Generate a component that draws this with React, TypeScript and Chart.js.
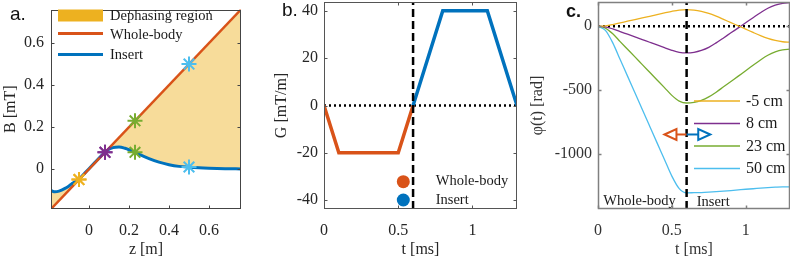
import React, { useEffect, useRef } from 'react';
import { Chart, registerables } from 'chart.js';
Chart.register(...registerables);

// ---------------- Panel a : field profiles ----------------
const aMin = -0.19;
const aMax = 0.76;
const aTicks = [0, 0.2, 0.4, 0.6];
const aTickLabels = ['0', '0.2', '0.4', '0.6'];
const wholeBodyZ = [-0.19, 0.76];
const wholeBodyB = [-0.19, 0.76];
const insertZ = [-0.19, -0.17, -0.15, -0.12, -0.1, -0.08, -0.05, -0.02, 0.0, 0.03, 0.06, 0.09, 0.12, 0.15, 0.18, 0.21, 0.23, 0.26, 0.3, 0.35, 0.4, 0.45, 0.5, 0.55, 0.6, 0.68, 0.76];
const insertB = [-0.102, -0.108, -0.105, -0.092, -0.08, -0.066, -0.048, -0.018, 0.002, 0.032, 0.062, 0.088, 0.102, 0.105, 0.099, 0.088, 0.08, 0.066, 0.05, 0.033, 0.021, 0.013, 0.009, 0.006, 0.004, 0.002, 0.001];
const markerZ = [-0.05, 0.08, 0.23, 0.5];
const markerWholeB = [-0.05, 0.08, 0.23, 0.5];
const markerInsertB = [-0.05, 0.08, 0.08, 0.01];
const positionLabels = ['-5 cm', '8 cm', '23 cm', '50 cm'];
const positionColors = ['#EDB120', '#7E2F8E', '#77AC30', '#4DBEEE'];
const aLegendLabels = ['Dephasing region', 'Whole-body', 'Insert'];

// ---------------- Panel b : gradient waveforms ----------------
const bXMin = 0;
const bXMax = 1.3;
const bYMin = -43.7;
const bYMax = 43.7;
const bXTicks = [0, 0.5, 1];
const bXTickLabels = ['0', '0.5', '1'];
const bYTicks = [-40, -20, 0, 20, 40];
const bYTickLabels = ['-40', '-20', '0', '20', '40'];
const gradWholeT = [0, 0.1, 0.5, 0.6];
const gradWholeG = [0, -20, -20, 0];
const gradInsertT = [0.6, 0.8, 1.1, 1.3];
const gradInsertG = [0, 40, 40, 0];
const switchTime = 0.6;

// ---------------- Panel c : accumulated phase ----------------
const cXMin = 0;
const cXMax = 1.3;
const cYMin = -1435;
const cYMax = 190;
const cXTicks = [0, 0.5, 1];
const cXTickLabels = ['0', '0.5', '1'];
const cYTicks = [-1000, -500, 0];
const cYTickLabels = ['-1000', '-500', '0'];
const phaseT = [0, 0.05, 0.1, 0.15, 0.2, 0.25, 0.3, 0.35, 0.4, 0.45, 0.5, 0.55, 0.6, 0.65, 0.7, 0.75, 0.8, 0.85, 0.9, 0.95, 1.0, 1.05, 1.1, 1.15, 1.2, 1.25, 1.3];
const phaseM5 = [0, 3, 13, 26, 39, 52, 65, 78, 91, 104, 117, 127, 130, 127, 117, 101, 79, 54, 28, 3, -23, -49, -74, -96, -112, -122, -125];
const phase8 = [0, -5, -21, -42, -63, -84, -105, -126, -147, -168, -189, -205, -210, -205, -190, -166, -131, -92, -52, -13, 27, 67, 106, 141, 165, 180, 185];
const phase23 = [0, -15, -60, -121, -181, -241, -302, -362, -422, -482, -543, -588, -603, -598, -582, -555, -518, -476, -434, -392, -349, -307, -265, -228, -201, -185, -180];
const phase50 = [0, -33, -131, -262, -392, -523, -654, -785, -916, -1046, -1177, -1275, -1308, -1307, -1306, -1303, -1299, -1294, -1290, -1285, -1280, -1276, -1271, -1267, -1264, -1262, -1262];
const arrowPhase = -850;
const arrowLeftT = 0.45;
const arrowRightT = 0.76;

const ORANGE = '#D95319';
const BLUE = '#0072BD';
const FILL = 'rgba(237,177,32,0.45)';
const SERIF = '"Liberation Serif", "Times New Roman", serif';
const SANS = '"Liberation Sans", Arial, sans-serif';

const pts = (xs: number[], ys: number[]) => xs.map((x, i) => ({ x, y: ys[i] }));

function makeScales(o: any) {
  const font = { family: SERIF, size: 16 };
  return {
    x: {
      type: 'linear', position: 'bottom', min: o.xmin, max: o.xmax,
      grid: { display: false, drawTicks: false }, border: { display: false },
      ticks: {
        autoSkip: false, maxRotation: 0, minRotation: 0, padding: 12, color: o.color, font,
        callback: (_v: any, i: number) => o.xLabels[i],
      },
      title: { display: true, text: o.xTitle, color: o.color, font, padding: { top: 0, bottom: 0 } },
      afterBuildTicks: (s: any) => { s.ticks = o.xTicks.map((v: number) => ({ value: v })); },
      afterFit: (s: any) => { s.height = 50; s.paddingLeft = 0; s.paddingRight = 0; },
    },
    y: {
      type: 'linear', position: 'left', min: o.ymin, max: o.ymax,
      grid: { display: false, drawTicks: false }, border: { display: false },
      ticks: {
        autoSkip: false, padding: o.yTickPad, color: o.color, font,
        callback: (_v: any, i: number) => o.yLabels[i],
      },
      title: { display: true, text: o.yTitle, color: o.color, font, padding: { top: o.yTitlePad, bottom: 0 } },
      afterBuildTicks: (s: any) => { s.ticks = o.yTicks.map((v: number) => ({ value: v })); },
      afterFit: (s: any) => { s.width = o.yWidth; s.paddingTop = 0; s.paddingBottom = 0; },
    },
  };
}

function drawFrame(chart: any, color: string, lw: number, xTicks: number[], yTicks: number[]) {
  const { ctx, chartArea: ca, scales } = chart;
  ctx.save();
  ctx.strokeStyle = color;
  ctx.lineWidth = lw;
  const l = Math.round(ca.left) + 0.5, r = Math.round(ca.right) - 0.5;
  const t = Math.round(ca.top) + 0.5, b = Math.round(ca.bottom) - 0.5;
  ctx.strokeRect(l, t, r - l, b - t);
  const tl = 3;
  ctx.beginPath();
  for (const v of xTicks) {
    const px = Math.round(scales.x.getPixelForValue(v)) + 0.5;
    ctx.moveTo(px, b); ctx.lineTo(px, b - tl);
    ctx.moveTo(px, t); ctx.lineTo(px, t + tl);
  }
  for (const v of yTicks) {
    const py = Math.round(scales.y.getPixelForValue(v)) + 0.5;
    ctx.moveTo(l, py); ctx.lineTo(l + tl, py);
    ctx.moveTo(r, py); ctx.lineTo(r - tl, py);
  }
  ctx.stroke();
  ctx.restore();
}

function text(ctx: any, s: string, x: number, y: number, font: string, color = '#1a1a1a') {
  ctx.save();
  ctx.font = font;
  ctx.fillStyle = color;
  ctx.textBaseline = 'middle';
  ctx.textAlign = 'left';
  ctx.fillText(s, x, y);
  ctx.restore();
}

function hline(ctx: any, x1: number, x2: number, y: number, color: string, w: number) {
  ctx.save();
  ctx.strokeStyle = color; ctx.lineWidth = w;
  ctx.beginPath(); ctx.moveTo(x1, y); ctx.lineTo(x2, y); ctx.stroke();
  ctx.restore();
}

const common = (padding: any) => ({
  responsive: false,
  animation: false,
  devicePixelRatio: 1,
  events: [],
  layout: { padding },
  plugins: { legend: { display: false }, tooltip: { enabled: false } },
});

export default function App() {
  const aRef = useRef<HTMLCanvasElement>(null);
  const bRef = useRef<HTMLCanvasElement>(null);
  const cRef = useRef<HTMLCanvasElement>(null);

  useEffect(() => {
    const charts: Chart[] = [];

    // ---------- panel a ----------
    const aDatasets: any[] = positionColors.map((c, i) => ({
      label: positionLabels[i],
      data: [{ x: markerZ[i], y: markerWholeB[i] }, { x: markerZ[i], y: markerInsertB[i] }],
      showLine: false, pointStyle: 'star', pointRadius: 7.5, pointBorderWidth: 2,
      pointBorderColor: c, pointBackgroundColor: c, borderColor: c,
    }));
    aDatasets.push({
      label: 'Whole-body', data: pts(wholeBodyZ, wholeBodyB), borderColor: ORANGE,
      borderWidth: 2.5, pointRadius: 0, fill: false,
    });
    aDatasets.push({
      label: 'Insert', data: pts(insertZ, insertB), borderColor: BLUE, borderWidth: 3,
      pointRadius: 0, fill: 4, backgroundColor: FILL, cubicInterpolationMode: 'monotone',
    });
    charts.push(new Chart(aRef.current!, {
      type: 'line',
      data: { datasets: aDatasets },
      options: {
        ...common({ left: 0, top: 2, right: 29, bottom: 0 }),
        scales: makeScales({
          xmin: aMin, xmax: aMax, ymin: aMin, ymax: aMax, xTicks: aTicks, xLabels: aTickLabels,
          yTicks: aTicks, yLabels: aTickLabels, xTitle: 'z [m]', yTitle: 'B [mT]',
          yWidth: 51, yTickPad: 7, yTitlePad: 1.4, color: '#262626',
        }),
      } as any,
      plugins: [{
        id: 'decoA',
        afterDraw(chart: any) {
          const ctx = chart.ctx;
          drawFrame(chart, '#444', 1, aTicks, aTicks);
          ctx.save();
          ctx.fillStyle = '#EDB120';
          ctx.fillRect(58, 9.5, 45, 12);
          ctx.restore();
          hline(ctx, 58, 103, 33.5, ORANGE, 3);
          hline(ctx, 58, 103, 54.5, BLUE, 3);
          const f = `14.5px ${SERIF}`;
          text(ctx, aLegendLabels[0], 110, 16, f);
          text(ctx, aLegendLabels[1], 110, 35, f);
          text(ctx, aLegendLabels[2], 110, 55.5, f);
          text(ctx, 'a.', 10, 15, `19px ${SANS}`, '#111');
        },
      }],
    }));

    // ---------- panel b ----------
    charts.push(new Chart(bRef.current!, {
      type: 'line',
      data: {
        datasets: [
          { data: [{ x: switchTime, y: bYMin }, { x: switchTime, y: bYMax }], borderColor: '#000', borderWidth: 2.5, borderDash: [8, 4], pointRadius: 0 },
          { data: pts(gradWholeT, gradWholeG), borderColor: ORANGE, borderWidth: 3.5, pointRadius: 0 },
          { data: pts(gradInsertT, gradInsertG), borderColor: BLUE, borderWidth: 3.5, pointRadius: 0 },
          { data: [{ x: bXMin, y: 0 }, { x: bXMax, y: 0 }], borderColor: '#000', borderWidth: 2.5, borderDash: [2, 3], pointRadius: 0 },
        ],
      },
      options: {
        ...common({ left: 0, top: 2, right: 15, bottom: 0 }),
        scales: makeScales({
          xmin: bXMin, xmax: bXMax, ymin: bYMin, ymax: bYMax, xTicks: bXTicks, xLabels: bXTickLabels,
          yTicks: bYTicks, yLabels: bYTickLabels, xTitle: 't [ms]', yTitle: 'G [mT/m]',
          yWidth: 54, yTickPad: 6, yTitlePad: 1.9, color: '#262626',
        }),
      } as any,
      plugins: [{
        id: 'decoB',
        afterDraw(chart: any) {
          const ctx = chart.ctx;
          drawFrame(chart, '#555', 1, bXTicks, bYTicks);
          ctx.save();
          ctx.fillStyle = ORANGE;
          ctx.beginPath(); ctx.arc(133.3, 181.7, 6.5, 0, Math.PI * 2); ctx.fill();
          ctx.fillStyle = BLUE;
          ctx.beginPath(); ctx.arc(133.3, 200, 6.5, 0, Math.PI * 2); ctx.fill();
          ctx.restore();
          const f = `14.5px ${SERIF}`;
          text(ctx, 'Whole-body', 165.7, 181.5, f);
          text(ctx, 'Insert', 165.7, 200, f);
          text(ctx, 'b.', 12, 11, `19px ${SANS}`, '#111');
        },
      }],
    }));

    // ---------- panel c ----------
    const phases = [phaseM5, phase8, phase23, phase50];
    charts.push(new Chart(cRef.current!, {
      type: 'line',
      data: {
        datasets: [
          { data: [{ x: switchTime, y: cYMin }, { x: switchTime, y: cYMax }], borderColor: '#000', borderWidth: 2.5, borderDash: [8, 4], pointRadius: 0 },
          ...phases.map((p, i) => ({
            label: positionLabels[i], data: pts(phaseT, p), borderColor: positionColors[i],
            borderWidth: 1.3, pointRadius: 0, cubicInterpolationMode: 'monotone',
          })),
          { data: [{ x: cXMin, y: 0 }, { x: cXMax, y: 0 }], borderColor: '#000', borderWidth: 2.5, borderDash: [2, 3], pointRadius: 0 },
        ],
      },
      options: {
        ...common({ left: 0, top: 2, right: 0, bottom: 0 }),
        scales: makeScales({
          xmin: cXMin, xmax: cXMax, ymin: cYMin, ymax: cYMax, xTicks: cXTicks, xLabels: cXTickLabels,
          yTicks: cYTicks, yLabels: cYTickLabels, xTitle: 't [ms]', yTitle: 'φ(t) [rad]',
          yWidth: 70, yTickPad: 6, yTitlePad: 0.4, color: '#333',
        }),
      } as any,
      plugins: [{
        id: 'decoC',
        afterDraw(chart: any) {
          const ctx = chart.ctx;
          const { x, y } = chart.scales;
          drawFrame(chart, '#808080', 1.5, cXTicks, cYTicks);
          // legend (canvas-local coords: canvas starts at 528)
          const rows = [101, 123.5, 146, 168.5];
          positionLabels.forEach((lab, i) => {
            hline(ctx, 166, 212, rows[i], positionColors[i], 1.5);
            text(ctx, lab, 218, rows[i] + 0.5, `16px ${SERIF}`);
          });
          // arrows
          const x0 = x.getPixelForValue(switchTime);
          const ya = y.getPixelForValue(arrowPhase);
          const drawArrow = (tipT: number, color: string) => {
            const tip = x.getPixelForValue(tipT);
            const dir = tip < x0 ? -1 : 1;
            const base = tip - dir * 12;
            ctx.save();
            ctx.strokeStyle = color; ctx.lineWidth = 2;
            ctx.beginPath(); ctx.moveTo(x0, ya); ctx.lineTo(base, ya); ctx.stroke();
            ctx.beginPath(); ctx.moveTo(tip, ya); ctx.lineTo(base, ya - 5.5); ctx.lineTo(base, ya + 5.5); ctx.closePath(); ctx.stroke();
            ctx.restore();
          };
          drawArrow(arrowLeftT, ORANGE);
          drawArrow(arrowRightT, BLUE);
          const f = `14.5px ${SERIF}`;
          text(ctx, 'Whole-body', 75.3, 201.5, f);
          text(ctx, 'Insert', 168.7, 202.5, f);
          ctx.save();
          ctx.font = `bold 18px ${SANS}`;
          ctx.fillStyle = '#111'; ctx.textBaseline = 'middle';
          ctx.fillText('c.', 38, 12.5);
          ctx.restore();
        },
      }],
    }));

    return () => charts.forEach((c) => c.destroy());
  }, []);

  const cs = (left: number, w: number): React.CSSProperties => ({
    position: 'absolute', left, top: 0, width: w, height: 259,
  });

  return (
    <div style={{ position: 'fixed', left: 0, top: 0, width: 790, height: 259, background: '#fff', overflow: 'hidden' }}>
      <canvas ref={aRef} width={270} height={259} style={cs(0, 270)} />
      <canvas ref={bRef} width={262} height={259} style={cs(270, 262)} />
      <canvas ref={cRef} width={262} height={259} style={cs(528, 262)} />
    </div>
  );
}
